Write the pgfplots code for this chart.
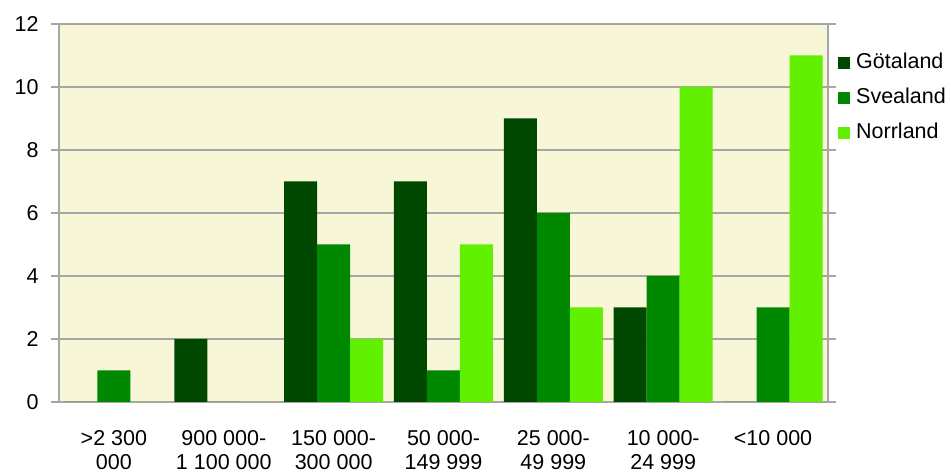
\documentclass[border=0pt]{standalone}
\usepackage{fontspec}
\setmainfont{Liberation Sans}
\usepackage{pgfplots}
\pgfplotsset{compat=1.18}
\definecolor{gota}{RGB}{0,72,0}
\definecolor{svea}{RGB}{0,136,0}
\definecolor{norr}{RGB}{96,240,0}
\definecolor{bgc}{RGB}{247,247,216}
\definecolor{gridc}{RGB}{166,166,166}
\newcommand{\lblfont}{\fontsize{21.5}{24}\selectfont}
\begin{document}
\begin{tikzpicture}
\begin{axis}[
  scale only axis, width=769pt, height=378pt,
  ybar=0pt, bar width=33pt,
  xmin=-0.5, xmax=6.5, ymin=0, ymax=12,
  ytick={0,2,...,12}, xtick={0,...,6},
  xticklabels={{>2 300\\000},{900 000-\\1 100 000},{150 000-\\300 000},{50 000-\\149 999},{25 000-\\49 999},{10 000-\\24 999},{<10 000}},
  axis background/.style={fill=bgc},
  axis line style={draw=gridc, line width=1.5pt},
  ymajorgrids, grid style={draw=gridc, line width=1.5pt},
  tick align=outside, major tick length=8pt,
  ytick style={draw=gridc, line width=1.5pt},
  xtick style={draw=none},
  /pgf/number format/assume math mode=true,
  tick label style={font=\lblfont},
  yticklabel style={xshift=-9pt},
  xticklabel style={align=center, inner sep=0pt, yshift=-20pt},
  legend style={at={(1,1)}, anchor=north west, xshift=10pt, yshift=-28pt,
    draw=none, fill=none, inner sep=0pt, row sep=14pt, font=\lblfont,
    nodes={inner sep=1pt, text height=15pt, text depth=4pt},
    /tikz/every odd column/.append style={column sep=5pt}},
  legend cell align=left,
  legend image code/.code={\fill[#1] (0pt,-6pt) rectangle (12pt,6pt);},
]
\addplot[fill=gota, draw=none] coordinates {(0,0) (1,2) (2,7) (3,7) (4,9) (5,3) (6,0)};
\addlegendentry{Götaland}
\addplot[fill=svea, draw=none] coordinates {(0,1) (1,0) (2,5) (3,1) (4,6) (5,4) (6,3)};
\addlegendentry{Svealand}
\addplot[fill=norr, draw=none] coordinates {(0,0) (1,0) (2,2) (3,5) (4,3) (5,10) (6,11)};
\addlegendentry{Norrland}
\end{axis}
\pgfresetboundingbox
\useasboundingbox (-59pt,-71pt) rectangle (892pt,402pt);
\end{tikzpicture}
\end{document}
